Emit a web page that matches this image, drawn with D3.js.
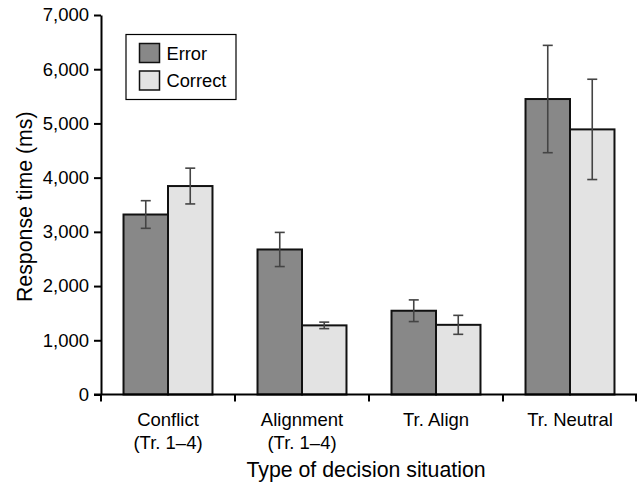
<!DOCTYPE html>
<html>
<head>
<meta charset="utf-8">
<script src="https://cdn.jsdelivr.net/npm/d3@7"></script>
<style>
  body { margin: 0; background: #fff; }
  svg { display: block; font-family: "Liberation Sans", Arial, sans-serif; }
</style>
</head>
<body>
<svg id="chart"></svg>
<script>
const width = 637;
const height = 485;

// data
const categories = ["Conflict|(Tr. 1–4)", "Alignment|(Tr. 1–4)", "Tr. Align", "Tr. Neutral"];
const seriesNames = ["Error", "Correct"];
const errorMeans = [3320, 2675, 1545, 5450];
const errorSE = [255, 315, 200, 990];
const correctMeans = [3845, 1275, 1285, 4890];
const correctSE = [330, 60, 175, 925];
const yTicks = [0, 1000, 2000, 3000, 4000, 5000, 6000, 7000];

const fills = { Error: "#888888", Correct: "#e3e3e3" };
const margin = { top: 15, right: 0, bottom: 90.5, left: 101 };

const rows = categories.map((c, i) => ({
    cat: c,
    values: [
        { key: "Error", mean: errorMeans[i], se: errorSE[i] },
        { key: "Correct", mean: correctMeans[i], se: correctSE[i] }
    ]
}));

const svg = d3.select("#chart")
    .attr("width", width)
    .attr("height", height);

const x0 = d3.scaleBand()
    .domain(categories)
    .range([margin.left, width - margin.right])
    .paddingInner(0.336)
    .paddingOuter(0.168);

const x1 = d3.scaleBand()
    .domain(seriesNames)
    .range([0, x0.bandwidth()]);

const y = d3.scaleLinear()
    .domain([0, 7000])
    .range([height - margin.bottom, margin.top]);

//bars
const groups = svg.append("g")
    .selectAll("g")
    .data(rows)
    .join("g")
    .attr("transform", d => `translate(${x0(d.cat)},0)`);

groups.selectAll("rect")
    .data(d => d.values)
    .join("rect")
    .attr("x", d => x1(d.key))
    .attr("y", d => y(d.mean))
    .attr("width", x1.bandwidth())
    .attr("height", d => y(0) - y(d.mean))
    .attr("fill", d => fills[d.key])
    .attr("stroke", "#111")
    .attr("stroke-width", 2);

// error bars
const capW = 5;
const eb = groups.selectAll("g.eb")
    .data(d => d.values)
    .join("g")
    .attr("class", "eb")
    .attr("stroke", "#444")
    .attr("stroke-width", 1.6)
    .attr("transform", d => `translate(${x1(d.key) + x1.bandwidth() / 2},0)`);
eb.append("line")
    .attr("y1", d => y(d.mean - d.se))
    .attr("y2", d => y(d.mean + d.se));
eb.append("line")
    .attr("x1", -capW).attr("x2", capW)
    .attr("y1", d => y(d.mean + d.se))
    .attr("y2", d => y(d.mean + d.se));
eb.append("line")
    .attr("x1", -capW).attr("x2", capW)
    .attr("y1", d => y(d.mean - d.se))
    .attr("y2", d => y(d.mean - d.se));

// y axis
const yAxis = svg.append("g")
    .attr("transform", `translate(${margin.left},0)`)
    .call(d3.axisLeft(y).tickValues(yTicks).tickFormat(d3.format(",")).tickSize(7).tickSizeOuter(0).tickPadding(5));
yAxis.select(".domain").attr("stroke", "#000").attr("stroke-width", 2);
yAxis.selectAll(".tick line").attr("stroke", "#000").attr("stroke-width", 2);
yAxis.selectAll(".tick text")
    .attr("font-size", 18.5)
    .attr("font-family", "Liberation Sans, Arial, sans-serif")
    .attr("fill", "#000");

// x axis: ticks sit between the categories
const xAxis = svg.append("g");
xAxis.append("line")
    .attr("x1", margin.left - 7)
    .attr("x2", width)
    .attr("y1", y(0)).attr("y2", y(0))
    .attr("stroke", "#000").attr("stroke-width", 2);
const bounds = categories.map(c => x0(c) - x0.step() * x0.paddingOuter())
    .concat([width - margin.right]);
xAxis.selectAll("line.xt")
    .data(bounds)
    .join("line")
    .attr("class", "xt")
    .attr("x1", d => Math.min(d, width - 1)).attr("x2", d => Math.min(d, width - 1))
    .attr("y1", y(0)).attr("y2", y(0) + 7)
    .attr("stroke", "#000").attr("stroke-width", 2);

const labels = xAxis.selectAll("text.xl")
    .data(categories)
    .join("text")
    .attr("class", "xl")
    .attr("text-anchor", "middle")
    .attr("font-size", 18.5)
    .attr("x", d => x0(d) + x0.bandwidth() / 2)
    .attr("y", y(0) + 31);
labels.selectAll("tspan")
    .data(d => d.split("|"))
    .join("tspan")
    .attr("x", function () { return this.parentNode.getAttribute("x"); })
    .attr("dy", (d, i) => i === 0 ? 0 : 23)
    .text(d => d);

// axis titles
svg.append("text")
    .attr("x", (margin.left + width) / 2 - 3)
    .attr("y", 477)
    .attr("text-anchor", "middle")
    .attr("font-size", 21.3)
    .text("Type of decision situation");

svg.append("text")
    .attr("transform", `translate(32,${(y(0) + y(7000)) / 2 + 2}) rotate(-90)`)
    .attr("text-anchor", "middle")
    .attr("font-size", 21.3)
    .text("Response time (ms)");

// legend
const legend = svg.append("g").attr("transform", "translate(126,34.5)");
legend.append("rect")
    .attr("width", 110).attr("height", 65)
    .attr("fill", "#fff").attr("stroke", "#000").attr("stroke-width", 1.2);
const li = legend.selectAll("g.li")
    .data(seriesNames)
    .join("g")
    .attr("class", "li")
    .attr("transform", (d, i) => `translate(13.5,${9 + i * 27.5})`);
li.append("rect")
    .attr("width", 20).attr("height", 19)
    .attr("fill", d => fills[d])
    .attr("stroke", "#111").attr("stroke-width", 1.5);
li.append("text")
    .attr("x", 27).attr("y", 16)
    .attr("font-size", 18.3)
    .text(d => d);
</script>
</body>
</html>
